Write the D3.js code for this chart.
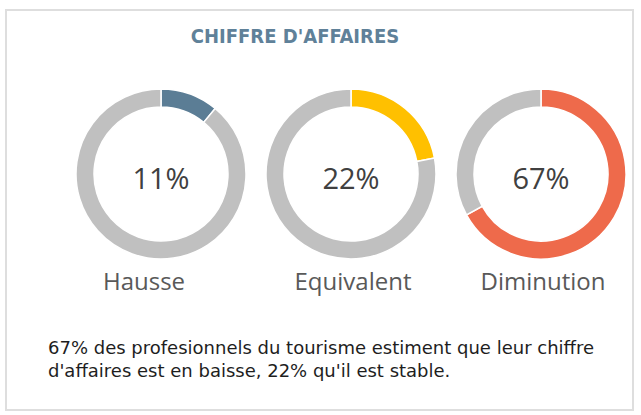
<!DOCTYPE html>
<html>
<head>
<meta charset="utf-8">
<script src="https://cdn.jsdelivr.net/npm/d3@7"></script>
<style>
  body { margin: 0; background: #fff; }
  #chart text { font-family: "DejaVu Sans", sans-serif; }
</style>
</head>
<body>
<svg id="chart"></svg>
<script>
// data
var categories = ['Hausse', 'Equivalent', 'Diminution'];
var values = [11, 22, 67];
var colors = ['#5b7d95', '#ffc000', '#ee6a4b'];
var title = "CHIFFRE D'AFFAIRES";
var note = ["67% des profesionnels du tourisme estiment que leur chiffre",
            "d'affaires est en baisse, 22% qu'il est stable."];

var width = 641, height = 415;
// label boxes are not exactly centred under the rings in the original
var labelShift = [-17, 2, 2];

var svg = d3.select('#chart')
    .attr('width', width)
    .attr('height', height);

// frame
svg.append('rect')
    .attr('x', 6).attr('y', 10)
    .attr('width', 627).attr('height', 400)
    .attr('fill', '#fff')
    .attr('stroke', '#dedede')
    .attr('stroke-width', 2);

svg.append('text')
    .attr('x', 295).attr('y', 43)
    .attr('text-anchor', 'middle')
    .style('font-family', '"DejaVu Sans Condensed", sans-serif')
    .style('font-weight', 'bold')
    .style('font-size', '20px')
    .attr('fill', '#5f8199')
    .text(title);

var x = d3.scaleBand().domain(categories).range([66, 636]);
var cy = 174, outerR = 85, innerR = 67;

var pie = d3.pie().sort(null).value(function(d) { return d; });
var arc = d3.arc().innerRadius(innerR).outerRadius(outerR);

var donuts = svg.selectAll('.donut')
    .data(categories)
    .enter().append('g')
    .attr('class', 'donut')
    .attr('transform', function(d) {
      return 'translate(' + (x(d) + x.bandwidth() / 2) + ',' + cy + ')';
    });

donuts.selectAll('path')
    .data(function(d, i) {
      return pie([values[i], 100 - values[i]]).map(function(p) { p.cat = i; return p; });
    })
    .enter().append('path')
    .attr('d', arc)
    .attr('fill', function(p) { return p.index === 0 ? colors[p.cat] : '#c0c0c0'; })
    .attr('stroke', '#fff')
    .attr('stroke-width', 1.5);

donuts.append('text')
    .attr('text-anchor', 'middle')
    .attr('y', 15)
    .style('font-family', '"Open Sans", sans-serif')
    .style('font-size', '29px')
    .attr('fill', '#404040')
    .text(function(d, i) { return values[i] + '%'; });

donuts.append('text')
    .attr('text-anchor', 'middle')
    .attr('x', function(d, i) { return labelShift[i]; })
    .attr('y', 116)
    .style('font-family', '"Open Sans", sans-serif')
    .style('font-size', '24px')
    .attr('fill', '#595959')
    .text(function(d) { return d; });

svg.selectAll('.note')
    .data(note)
    .enter().append('text')
    .attr('class', 'note')
    .attr('x', 48)
    .attr('y', function(d, i) { return 354 + i * 23; })
    .style('font-size', '18px')
    .attr('fill', '#1e1e1e')
    .text(function(d) { return d; });
</script>
</body>
</html>
